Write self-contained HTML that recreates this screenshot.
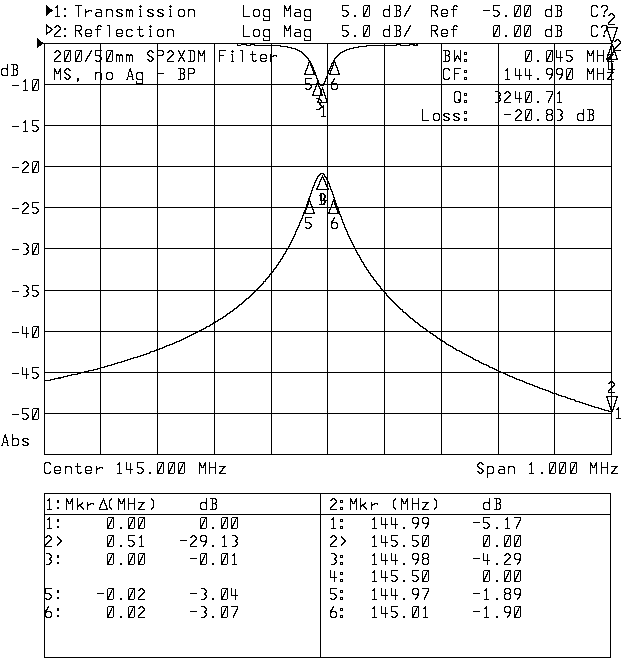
<!DOCTYPE html>
<html lang="en"><head><meta charset="utf-8"><title>Network analyzer plot</title>
<style>
html,body{margin:0;padding:0;background:#fff;}
body{width:640px;height:659px;overflow:hidden;font-family:"Liberation Mono",monospace;}
svg{display:block;}
svg text{font-family:"Liberation Mono",monospace;font-size:17px;fill:#000;fill-opacity:0;white-space:pre;}
</style></head><body>
<svg width="640" height="659" viewBox="0 0 640 659" shape-rendering="crispEdges" fill="#000">
<defs><path id="g28" d="M4 0h1v1h-1zM3 1h2v1h-2zM2 2h2v1h-2zM2 3h1v1h-1zM2 4h1v1h-1zM2 5h1v1h-1zM2 6h1v1h-1zM2 7h1v1h-1zM2 8h1v1h-1zM2 9h2v1h-2zM3 10h2v1h-2zM4 11h1v1h-1z"/><path id="g29" d="M2 0h1v1h-1zM2 1h2v1h-2zM3 2h2v1h-2zM4 3h1v1h-1zM4 4h1v1h-1zM4 5h1v1h-1zM4 6h1v1h-1zM4 7h1v1h-1zM4 8h1v1h-1zM3 9h2v1h-2zM2 10h2v1h-2zM2 11h1v1h-1z"/><path id="g2c" d="M2 10h2v1h-2zM2 11h2v1h-2zM2 12h2v1h-2zM2 13h1v1h-1z"/><path id="g2d" d="M0 5h7v1h-7z"/><path id="g2e" d="M2 10h2v1h-2zM2 11h2v1h-2z"/><path id="g2f" d="M6 0h1v1h-1zM5 1h2v1h-2zM5 2h1v1h-1zM4 3h2v1h-2zM4 4h1v1h-1zM3 5h2v1h-2zM2 6h2v1h-2zM2 7h1v1h-1zM1 8h2v1h-2zM1 9h1v1h-1zM0 10h2v1h-2zM0 11h1v1h-1z"/><path id="g30" d="M1 0h6v1h-6zM0 1h1v1h-1zM5 1h2v1h-2zM0 2h1v1h-1zM4 2h1v1h-1zM6 2h1v1h-1zM0 3h1v1h-1zM4 3h1v1h-1zM6 3h1v1h-1zM0 4h1v1h-1zM3 4h2v1h-2zM6 4h1v1h-1zM0 5h1v1h-1zM3 5h1v1h-1zM6 5h1v1h-1zM0 6h1v1h-1zM2 6h2v1h-2zM6 6h1v1h-1zM0 7h1v1h-1zM2 7h1v1h-1zM6 7h1v1h-1zM0 8h3v1h-3zM6 8h1v1h-1zM0 9h2v1h-2zM6 9h1v1h-1zM0 10h2v1h-2zM6 10h1v1h-1zM0 11h6v1h-6z"/><path id="g31" d="M3 0h1v1h-1zM2 1h2v1h-2zM1 2h3v1h-3zM3 3h1v1h-1zM3 4h1v1h-1zM3 5h1v1h-1zM3 6h1v1h-1zM3 7h1v1h-1zM3 8h1v1h-1zM3 9h1v1h-1zM3 10h1v1h-1zM1 11h5v1h-5z"/><path id="g32" d="M2 0h3v1h-3zM1 1h2v1h-2zM4 1h2v1h-2zM0 2h2v1h-2zM5 2h2v1h-2zM6 3h1v1h-1zM5 4h2v1h-2zM4 5h2v1h-2zM3 6h2v1h-2zM2 7h2v1h-2zM1 8h2v1h-2zM0 9h2v1h-2zM0 10h1v1h-1zM0 11h7v1h-7z"/><path id="g33" d="M1 0h4v1h-4zM4 1h2v1h-2zM5 2h2v1h-2zM6 3h1v1h-1zM5 4h2v1h-2zM4 5h2v1h-2zM4 6h2v1h-2zM5 7h2v1h-2zM6 8h1v1h-1zM5 9h2v1h-2zM4 10h2v1h-2zM1 11h4v1h-4z"/><path id="g34" d="M0 0h1v1h-1zM0 1h1v1h-1zM4 1h1v1h-1zM0 2h1v1h-1zM4 2h1v1h-1zM0 3h1v1h-1zM4 3h1v1h-1zM0 4h1v1h-1zM4 4h1v1h-1zM0 5h1v1h-1zM4 5h1v1h-1zM0 6h1v1h-1zM4 6h1v1h-1zM0 7h7v1h-7zM4 8h1v1h-1zM4 9h1v1h-1zM4 10h1v1h-1zM4 11h1v1h-1z"/><path id="g35" d="M0 0h7v1h-7zM0 1h1v1h-1zM0 2h1v1h-1zM0 3h1v1h-1zM0 4h1v1h-1zM0 5h5v1h-5zM4 6h2v1h-2zM5 7h2v1h-2zM6 8h1v1h-1zM5 9h2v1h-2zM0 10h2v1h-2zM4 10h2v1h-2zM1 11h4v1h-4z"/><path id="g36" d="M3 0h1v1h-1zM2 1h2v1h-2zM2 2h1v1h-1zM1 3h2v1h-2zM0 4h2v1h-2zM0 5h6v1h-6zM0 6h2v1h-2zM5 6h2v1h-2zM0 7h1v1h-1zM6 7h1v1h-1zM0 8h1v1h-1zM6 8h1v1h-1zM0 9h1v1h-1zM6 9h1v1h-1zM0 10h2v1h-2zM5 10h2v1h-2zM1 11h5v1h-5z"/><path id="g37" d="M0 0h7v1h-7zM6 1h1v1h-1zM6 2h1v1h-1zM5 3h2v1h-2zM5 4h1v1h-1zM4 5h2v1h-2zM4 6h1v1h-1zM3 7h2v1h-2zM3 8h1v1h-1zM2 9h2v1h-2zM2 10h1v1h-1zM2 11h1v1h-1z"/><path id="g38" d="M1 0h5v1h-5zM0 1h2v1h-2zM5 1h2v1h-2zM0 2h1v1h-1zM6 2h1v1h-1zM0 3h1v1h-1zM6 3h1v1h-1zM0 4h2v1h-2zM5 4h2v1h-2zM1 5h5v1h-5zM0 6h2v1h-2zM5 6h2v1h-2zM0 7h1v1h-1zM6 7h1v1h-1zM0 8h1v1h-1zM6 8h1v1h-1zM0 9h1v1h-1zM6 9h1v1h-1zM0 10h2v1h-2zM5 10h2v1h-2zM1 11h5v1h-5z"/><path id="g39" d="M1 0h5v1h-5zM0 1h2v1h-2zM5 1h2v1h-2zM0 2h1v1h-1zM6 2h1v1h-1zM0 3h1v1h-1zM6 3h1v1h-1zM0 4h1v1h-1zM6 4h1v1h-1zM0 5h2v1h-2zM5 5h2v1h-2zM1 6h6v1h-6zM5 7h2v1h-2zM5 8h1v1h-1zM4 9h2v1h-2zM3 10h2v1h-2zM3 11h1v1h-1z"/><path id="g3a" d="M0 2h3v1h-3zM0 3h1v1h-1zM2 3h1v1h-1zM0 4h3v1h-3zM0 9h3v1h-3zM0 10h1v1h-1zM2 10h1v1h-1zM0 11h3v1h-3z"/><path id="g3b" d="M0 3h2v1h-2zM0 4h2v1h-2zM0 10h2v1h-2zM0 11h2v1h-2z"/><path id="g3e" d="M1 1h1v1h-1zM1 2h2v1h-2zM2 3h2v1h-2zM3 4h2v1h-2zM4 5h2v1h-2zM4 6h2v1h-2zM3 7h2v1h-2zM2 8h2v1h-2zM1 9h2v1h-2zM1 10h1v1h-1z"/><path id="g3f" d="M1 0h5v1h-5zM0 1h2v1h-2zM5 1h2v1h-2zM0 2h1v1h-1zM6 2h1v1h-1zM6 3h1v1h-1zM5 4h2v1h-2zM4 5h2v1h-2zM3 6h2v1h-2zM3 7h1v1h-1zM3 8h1v1h-1zM2 10h2v1h-2zM2 11h2v1h-2z"/><path id="g41" d="M4 0h1v1h-1zM3 1h2v1h-2zM3 2h2v1h-2zM3 3h3v1h-3zM2 4h1v1h-1zM5 4h1v1h-1zM2 5h1v1h-1zM5 5h1v1h-1zM2 6h1v1h-1zM5 6h2v1h-2zM2 7h1v1h-1zM6 7h1v1h-1zM2 8h5v1h-5zM1 9h1v1h-1zM6 9h1v1h-1zM1 10h1v1h-1zM6 10h1v1h-1zM0 11h2v1h-2zM6 11h2v1h-2z"/><path id="g42" d="M0 0h6v1h-6zM2 1h1v1h-1zM5 1h2v1h-2zM2 2h1v1h-1zM6 2h1v1h-1zM2 3h1v1h-1zM6 3h1v1h-1zM2 4h1v1h-1zM5 4h2v1h-2zM2 5h4v1h-4zM2 6h1v1h-1zM5 6h2v1h-2zM2 7h1v1h-1zM6 7h1v1h-1zM2 8h1v1h-1zM6 8h1v1h-1zM2 9h1v1h-1zM6 9h1v1h-1zM2 10h1v1h-1zM5 10h2v1h-2zM0 11h6v1h-6z"/><path id="g43" d="M1 0h5v1h-5zM0 1h2v1h-2zM5 1h2v1h-2zM0 2h1v1h-1zM6 2h1v1h-1zM0 3h1v1h-1zM0 4h1v1h-1zM0 5h1v1h-1zM0 6h1v1h-1zM0 7h1v1h-1zM0 8h1v1h-1zM0 9h1v1h-1zM6 9h1v1h-1zM0 10h2v1h-2zM5 10h2v1h-2zM1 11h5v1h-5z"/><path id="g44" d="M0 0h6v1h-6zM2 1h1v1h-1zM5 1h2v1h-2zM2 2h1v1h-1zM6 2h1v1h-1zM2 3h1v1h-1zM6 3h1v1h-1zM2 4h1v1h-1zM6 4h1v1h-1zM2 5h1v1h-1zM6 5h1v1h-1zM2 6h1v1h-1zM6 6h1v1h-1zM2 7h1v1h-1zM6 7h1v1h-1zM2 8h1v1h-1zM6 8h1v1h-1zM2 9h1v1h-1zM6 9h1v1h-1zM2 10h1v1h-1zM5 10h2v1h-2zM0 11h6v1h-6z"/><path id="g46" d="M0 0h7v1h-7zM0 1h1v1h-1zM0 2h1v1h-1zM0 3h1v1h-1zM0 4h1v1h-1zM0 5h5v1h-5zM0 6h1v1h-1zM0 7h1v1h-1zM0 8h1v1h-1zM0 9h1v1h-1zM0 10h1v1h-1zM0 11h1v1h-1z"/><path id="g48" d="M0 0h1v1h-1zM6 0h1v1h-1zM0 1h1v1h-1zM6 1h1v1h-1zM0 2h1v1h-1zM6 2h1v1h-1zM0 3h1v1h-1zM6 3h1v1h-1zM0 4h1v1h-1zM6 4h1v1h-1zM0 5h7v1h-7zM0 6h1v1h-1zM6 6h1v1h-1zM0 7h1v1h-1zM6 7h1v1h-1zM0 8h1v1h-1zM6 8h1v1h-1zM0 9h1v1h-1zM6 9h1v1h-1zM0 10h1v1h-1zM6 10h1v1h-1zM0 11h1v1h-1zM6 11h1v1h-1z"/><path id="g4c" d="M0 0h1v1h-1zM0 1h1v1h-1zM0 2h1v1h-1zM0 3h1v1h-1zM0 4h1v1h-1zM0 5h1v1h-1zM0 6h1v1h-1zM0 7h1v1h-1zM0 8h1v1h-1zM0 9h1v1h-1zM0 10h1v1h-1zM0 11h7v1h-7z"/><path id="g4d" d="M0 0h1v1h-1zM6 0h1v1h-1zM0 1h2v1h-2zM5 1h2v1h-2zM0 2h2v1h-2zM5 2h2v1h-2zM0 3h3v1h-3zM4 3h3v1h-3zM0 4h1v1h-1zM2 4h1v1h-1zM4 4h1v1h-1zM6 4h1v1h-1zM0 5h1v1h-1zM2 5h3v1h-3zM6 5h1v1h-1zM0 6h1v1h-1zM6 6h1v1h-1zM0 7h1v1h-1zM6 7h1v1h-1zM0 8h1v1h-1zM6 8h1v1h-1zM0 9h1v1h-1zM6 9h1v1h-1zM0 10h1v1h-1zM6 10h1v1h-1zM0 11h1v1h-1zM6 11h1v1h-1z"/><path id="g50" d="M0 0h6v1h-6zM0 1h1v1h-1zM5 1h2v1h-2zM0 2h1v1h-1zM6 2h1v1h-1zM0 3h1v1h-1zM6 3h1v1h-1zM0 4h1v1h-1zM5 4h2v1h-2zM0 5h6v1h-6zM0 6h1v1h-1zM0 7h1v1h-1zM0 8h1v1h-1zM0 9h1v1h-1zM0 10h1v1h-1zM0 11h1v1h-1z"/><path id="g51" d="M1 0h5v1h-5zM0 1h2v1h-2zM5 1h2v1h-2zM0 2h1v1h-1zM6 2h1v1h-1zM0 3h1v1h-1zM6 3h1v1h-1zM0 4h1v1h-1zM6 4h1v1h-1zM0 5h1v1h-1zM6 5h1v1h-1zM0 6h1v1h-1zM6 6h1v1h-1zM0 7h1v1h-1zM6 7h1v1h-1zM0 8h1v1h-1zM4 8h3v1h-3zM0 9h1v1h-1zM4 9h3v1h-3zM0 10h2v1h-2zM5 10h2v1h-2zM1 11h5v1h-5z"/><path id="g52" d="M0 0h6v1h-6zM0 1h1v1h-1zM5 1h2v1h-2zM0 2h1v1h-1zM6 2h1v1h-1zM0 3h1v1h-1zM6 3h1v1h-1zM0 4h1v1h-1zM5 4h2v1h-2zM0 5h6v1h-6zM0 6h1v1h-1zM3 6h2v1h-2zM0 7h1v1h-1zM4 7h1v1h-1zM0 8h1v1h-1zM4 8h2v1h-2zM0 9h1v1h-1zM5 9h2v1h-2zM0 10h1v1h-1zM6 10h1v1h-1zM0 11h1v1h-1zM6 11h1v1h-1z"/><path id="g53" d="M2 0h3v1h-3zM1 1h2v1h-2zM4 1h2v1h-2zM0 2h2v1h-2zM5 2h2v1h-2zM0 3h1v1h-1zM0 4h2v1h-2zM1 5h2v1h-2zM2 6h3v1h-3zM4 7h2v1h-2zM5 8h2v1h-2zM0 9h2v1h-2zM5 9h2v1h-2zM1 10h2v1h-2zM4 10h2v1h-2zM2 11h3v1h-3z"/><path id="g54" d="M0 0h7v1h-7zM3 1h1v1h-1zM3 2h1v1h-1zM3 3h1v1h-1zM3 4h1v1h-1zM3 5h1v1h-1zM3 6h1v1h-1zM3 7h1v1h-1zM3 8h1v1h-1zM3 9h1v1h-1zM3 10h1v1h-1zM3 11h1v1h-1z"/><path id="g57" d="M0 0h1v1h-1zM6 0h1v1h-1zM0 1h1v1h-1zM6 1h1v1h-1zM0 2h1v1h-1zM6 2h1v1h-1zM0 3h1v1h-1zM6 3h1v1h-1zM0 4h1v1h-1zM6 4h1v1h-1zM0 5h1v1h-1zM3 5h1v1h-1zM6 5h1v1h-1zM0 6h1v1h-1zM2 6h3v1h-3zM6 6h1v1h-1zM0 7h1v1h-1zM2 7h1v1h-1zM4 7h1v1h-1zM6 7h1v1h-1zM0 8h3v1h-3zM4 8h3v1h-3zM0 9h2v1h-2zM5 9h2v1h-2zM0 10h2v1h-2zM6 10h1v1h-1zM0 11h1v1h-1zM6 11h1v1h-1z"/><path id="g58" d="M0 0h1v1h-1zM6 0h1v1h-1zM0 1h2v1h-2zM5 1h2v1h-2zM1 2h1v1h-1zM5 2h1v1h-1zM1 3h2v1h-2zM4 3h2v1h-2zM2 4h1v1h-1zM4 4h1v1h-1zM2 5h3v1h-3zM3 6h1v1h-1zM2 7h3v1h-3zM1 8h2v1h-2zM4 8h2v1h-2zM1 9h1v1h-1zM5 9h1v1h-1zM0 10h2v1h-2zM5 10h2v1h-2zM0 11h1v1h-1zM6 11h1v1h-1z"/><path id="g5e" d="M6 0h1v1h-1zM6 1h1v1h-1zM5 2h3v1h-3zM5 3h1v1h-1zM7 3h1v1h-1zM4 4h2v1h-2zM7 4h1v1h-1zM4 5h1v1h-1zM7 5h2v1h-2zM3 6h2v1h-2zM8 6h1v1h-1zM3 7h1v1h-1zM8 7h2v1h-2zM3 8h1v1h-1zM9 8h1v1h-1zM2 9h2v1h-2zM9 9h1v1h-1zM2 10h1v1h-1zM9 10h2v1h-2zM2 11h9v1h-9z"/><path id="g5f" d="M0 6h7v1h-7z"/><path id="g61" d="M1 4h5v1h-5zM5 5h2v1h-2zM6 6h1v1h-1zM1 7h6v1h-6zM0 8h2v1h-2zM6 8h1v1h-1zM0 9h1v1h-1zM6 9h1v1h-1zM0 10h2v1h-2zM6 10h1v1h-1zM1 11h6v1h-6z"/><path id="g62" d="M0 0h1v1h-1zM0 1h1v1h-1zM0 2h1v1h-1zM0 3h1v1h-1zM0 4h6v1h-6zM0 5h2v1h-2zM5 5h2v1h-2zM0 6h1v1h-1zM6 6h1v1h-1zM0 7h1v1h-1zM6 7h1v1h-1zM0 8h1v1h-1zM6 8h1v1h-1zM0 9h1v1h-1zM6 9h1v1h-1zM0 10h1v1h-1zM5 10h2v1h-2zM0 11h6v1h-6z"/><path id="g63" d="M1 4h5v1h-5zM0 5h2v1h-2zM5 5h2v1h-2zM0 6h1v1h-1zM0 7h1v1h-1zM0 8h1v1h-1zM0 9h1v1h-1zM0 10h2v1h-2zM5 10h2v1h-2zM1 11h5v1h-5z"/><path id="g64" d="M6 0h1v1h-1zM6 1h1v1h-1zM6 2h1v1h-1zM6 3h1v1h-1zM1 4h6v1h-6zM0 5h2v1h-2zM5 5h2v1h-2zM0 6h1v1h-1zM6 6h1v1h-1zM0 7h1v1h-1zM6 7h1v1h-1zM0 8h1v1h-1zM6 8h1v1h-1zM0 9h1v1h-1zM6 9h1v1h-1zM0 10h2v1h-2zM6 10h1v1h-1zM1 11h6v1h-6z"/><path id="g65" d="M1 4h5v1h-5zM0 5h2v1h-2zM5 5h2v1h-2zM0 6h1v1h-1zM6 6h1v1h-1zM0 7h1v1h-1zM6 7h1v1h-1zM0 8h7v1h-7zM0 9h1v1h-1zM0 10h2v1h-2zM5 10h2v1h-2zM1 11h5v1h-5z"/><path id="g66" d="M3 0h3v1h-3zM2 1h2v1h-2zM5 1h2v1h-2zM2 2h1v1h-1zM2 3h1v1h-1zM0 4h6v1h-6zM2 5h1v1h-1zM2 6h1v1h-1zM2 7h1v1h-1zM2 8h1v1h-1zM2 9h1v1h-1zM2 10h1v1h-1zM2 11h1v1h-1z"/><path id="g67" d="M1 4h6v1h-6zM0 5h2v1h-2zM5 5h2v1h-2zM0 6h1v1h-1zM6 6h1v1h-1zM0 7h1v1h-1zM6 7h1v1h-1zM0 8h1v1h-1zM6 8h1v1h-1zM0 9h1v1h-1zM6 9h1v1h-1zM0 10h2v1h-2zM6 10h1v1h-1zM1 11h6v1h-6zM6 12h1v1h-1zM0 13h1v1h-1zM6 13h1v1h-1zM0 14h1v1h-1zM6 14h1v1h-1zM0 15h7v1h-7z"/><path id="g69" d="M3 0h1v1h-1zM2 1h3v1h-3zM3 2h1v1h-1zM2 4h2v1h-2zM3 5h1v1h-1zM3 6h1v1h-1zM3 7h1v1h-1zM3 8h1v1h-1zM3 9h1v1h-1zM3 10h1v1h-1zM2 11h3v1h-3z"/><path id="g6b" d="M0 0h1v1h-1zM0 1h1v1h-1zM0 2h1v1h-1zM0 3h1v1h-1zM0 4h1v1h-1zM5 4h1v1h-1zM0 5h1v1h-1zM4 5h2v1h-2zM0 6h1v1h-1zM2 6h3v1h-3zM0 7h4v1h-4zM0 8h2v1h-2zM3 8h2v1h-2zM0 9h1v1h-1zM4 9h2v1h-2zM0 10h1v1h-1zM5 10h2v1h-2zM0 11h1v1h-1zM6 11h1v1h-1z"/><path id="g6c" d="M1 0h3v1h-3zM3 1h1v1h-1zM3 2h1v1h-1zM3 3h1v1h-1zM3 4h1v1h-1zM3 5h1v1h-1zM3 6h1v1h-1zM3 7h1v1h-1zM3 8h1v1h-1zM3 9h1v1h-1zM3 10h1v1h-1zM3 11h1v1h-1z"/><path id="g6d" d="M0 4h3v1h-3zM4 4h2v1h-2zM0 5h7v1h-7zM0 6h1v1h-1zM3 6h1v1h-1zM6 6h1v1h-1zM0 7h1v1h-1zM3 7h1v1h-1zM6 7h1v1h-1zM0 8h1v1h-1zM3 8h1v1h-1zM6 8h1v1h-1zM0 9h1v1h-1zM3 9h1v1h-1zM6 9h1v1h-1zM0 10h1v1h-1zM3 10h1v1h-1zM6 10h1v1h-1zM0 11h1v1h-1zM3 11h1v1h-1zM6 11h1v1h-1z"/><path id="g6e" d="M0 4h6v1h-6zM0 5h2v1h-2zM5 5h2v1h-2zM0 6h1v1h-1zM6 6h1v1h-1zM0 7h1v1h-1zM6 7h1v1h-1zM0 8h1v1h-1zM6 8h1v1h-1zM0 9h1v1h-1zM6 9h1v1h-1zM0 10h1v1h-1zM6 10h1v1h-1zM0 11h1v1h-1zM6 11h1v1h-1z"/><path id="g6f" d="M1 4h5v1h-5zM0 5h2v1h-2zM5 5h2v1h-2zM0 6h1v1h-1zM6 6h1v1h-1zM0 7h1v1h-1zM6 7h1v1h-1zM0 8h1v1h-1zM6 8h1v1h-1zM0 9h1v1h-1zM6 9h1v1h-1zM0 10h2v1h-2zM5 10h2v1h-2zM1 11h5v1h-5z"/><path id="g70" d="M0 4h6v1h-6zM0 5h2v1h-2zM5 5h2v1h-2zM0 6h1v1h-1zM6 6h1v1h-1zM0 7h1v1h-1zM6 7h1v1h-1zM0 8h1v1h-1zM6 8h1v1h-1zM0 9h1v1h-1zM6 9h1v1h-1zM0 10h1v1h-1zM5 10h2v1h-2zM0 11h6v1h-6zM0 12h1v1h-1zM0 13h1v1h-1zM0 14h1v1h-1zM0 15h1v1h-1z"/><path id="g72" d="M0 4h1v1h-1zM0 5h1v1h-1zM3 5h4v1h-4zM0 6h4v1h-4zM6 6h1v1h-1zM0 7h2v1h-2zM0 8h1v1h-1zM0 9h1v1h-1zM0 10h1v1h-1zM0 11h1v1h-1z"/><path id="g73" d="M1 4h5v1h-5zM0 5h2v1h-2zM5 5h2v1h-2zM0 6h2v1h-2zM1 7h3v1h-3zM3 8h3v1h-3zM5 9h2v1h-2zM0 10h2v1h-2zM5 10h2v1h-2zM1 11h5v1h-5z"/><path id="g74" d="M2 1h1v1h-1zM2 2h1v1h-1zM2 3h1v1h-1zM0 4h6v1h-6zM2 5h1v1h-1zM2 6h1v1h-1zM2 7h1v1h-1zM2 8h1v1h-1zM2 9h1v1h-1zM2 10h2v1h-2zM5 10h2v1h-2zM3 11h3v1h-3z"/><path id="g7a" d="M0 4h7v1h-7zM4 5h2v1h-2zM3 6h2v1h-2zM3 7h1v1h-1zM2 8h2v1h-2zM1 9h2v1h-2zM0 10h2v1h-2zM0 11h7v1h-7z"/><path id="g7c" d="M1 2h2v1h-2zM1 3h2v1h-2zM1 4h2v1h-2zM1 9h2v1h-2zM1 10h2v1h-2z"/></defs>
<rect width="640" height="659" fill="#fff"/>
<g><text x="54" y="16" xml:space="preserve">1:Transmission</text><text x="54" y="36" xml:space="preserve">2:Reflection</text><text x="243" y="16" xml:space="preserve">Log Mag</text><text x="342" y="16" xml:space="preserve">5.0 dB/</text><text x="431" y="16" xml:space="preserve">Ref</text><text x="590" y="16" xml:space="preserve">C?</text><text x="243" y="36" xml:space="preserve">Log Mag</text><text x="342" y="36" xml:space="preserve">5.0 dB/</text><text x="431" y="36" xml:space="preserve">Ref</text><text x="590" y="36" xml:space="preserve">C?</text><text x="483" y="16" xml:space="preserve">-5.00 dB</text><text x="483" y="36" xml:space="preserve">0.00 dB</text><text x="54" y="61" xml:space="preserve">200/50mm SP2XDM Filter</text><text x="54" y="79" xml:space="preserve">MS, no Ag - BP</text><text x="443" y="61" xml:space="preserve">BW:</text><text x="525" y="61" xml:space="preserve">0.045 MHz</text><text x="443" y="79" xml:space="preserve">CF:</text><text x="504" y="79" xml:space="preserve">144.990 MHz</text><text x="454" y="102" xml:space="preserve">Q:</text><text x="494" y="102" xml:space="preserve">3240.71</text><text x="422" y="120" xml:space="preserve">Loss:</text><text x="504" y="120" xml:space="preserve">-20.83 dB</text><text x="1" y="75" xml:space="preserve">dB</text><text x="12" y="90" xml:space="preserve">-10</text><text x="12" y="131" xml:space="preserve">-15</text><text x="12" y="172" xml:space="preserve">-20</text><text x="12" y="213" xml:space="preserve">-25</text><text x="12" y="254" xml:space="preserve">-30</text><text x="12" y="296" xml:space="preserve">-35</text><text x="12" y="337" xml:space="preserve">-40</text><text x="12" y="378" xml:space="preserve">-45</text><text x="12" y="419" xml:space="preserve">-50</text><text x="1" y="445" xml:space="preserve">Abs</text><text x="44" y="473" xml:space="preserve">Center 145.000 MHz</text><text x="477" y="473" xml:space="preserve">Span 1.000 MHz</text><text x="46" y="509" xml:space="preserve">1:Mkr Δ(MHz)    dB</text><text x="330" y="509" xml:space="preserve">2:Mkr (MHz)    dB</text><text x="46" y="528" xml:space="preserve">1:    0.00     0.00</text><text x="330" y="528" xml:space="preserve">1:  144.99    -5.17</text><text x="46" y="546" xml:space="preserve">2&gt;    0.51   -29.13</text><text x="330" y="546" xml:space="preserve">2&gt;  145.50     0.00</text><text x="46" y="564" xml:space="preserve">3:    0.00    -0.01</text><text x="330" y="564" xml:space="preserve">3:  144.98    -4.29</text><text x="330" y="581" xml:space="preserve">4:  145.50     0.00</text><text x="46" y="599" xml:space="preserve">5:   -0.02    -3.04</text><text x="330" y="599" xml:space="preserve">5:  144.97    -1.89</text><text x="46" y="617" xml:space="preserve">6:    0.02    -3.07</text><text x="330" y="617" xml:space="preserve">6:  145.01    -1.90</text></g>
<rect x="44" y="43" width="1" height="412"/>
<rect x="100" y="43" width="1" height="412"/>
<rect x="157" y="43" width="1" height="412"/>
<rect x="214" y="43" width="1" height="412"/>
<rect x="271" y="43" width="1" height="412"/>
<rect x="327" y="43" width="1" height="412"/>
<rect x="384" y="43" width="1" height="412"/>
<rect x="441" y="43" width="1" height="412"/>
<rect x="498" y="43" width="1" height="412"/>
<rect x="554" y="43" width="1" height="412"/>
<rect x="611" y="43" width="1" height="412"/>
<rect x="44" y="43" width="568" height="1"/>
<rect x="44" y="84" width="568" height="1"/>
<rect x="44" y="125" width="568" height="1"/>
<rect x="44" y="166" width="568" height="1"/>
<rect x="44" y="207" width="568" height="1"/>
<rect x="44" y="248" width="568" height="1"/>
<rect x="44" y="290" width="568" height="1"/>
<rect x="44" y="331" width="568" height="1"/>
<rect x="44" y="372" width="568" height="1"/>
<rect x="44" y="413" width="568" height="1"/>
<rect x="44" y="454" width="568" height="1"/>
<path d="M44 380h1v2h-1zM45 380h5v1h-5zM50 379h1v2h-1zM51 379h3v1h-3zM54 378h1v2h-1zM55 378h3v1h-3zM58 377h1v2h-1zM59 377h1v2h-1zM60 377h1v2h-1zM61 377h2v1h-2zM63 376h1v2h-1zM64 376h3v1h-3zM67 375h1v2h-1zM68 375h3v1h-3zM71 374h1v2h-1zM72 374h5v1h-5zM77 373h1v2h-1zM78 373h2v1h-2zM80 372h1v2h-1zM81 372h3v1h-3zM84 371h1v2h-1zM85 371h3v1h-3zM88 370h1v2h-1zM89 370h4v1h-4zM93 369h1v2h-1zM94 369h3v1h-3zM97 368h1v2h-1zM98 368h2v1h-2zM100 367h1v2h-1zM101 367h3v1h-3zM104 366h1v2h-1zM105 366h2v1h-2zM107 365h1v2h-1zM108 365h3v1h-3zM111 364h1v2h-1zM112 364h2v1h-2zM114 363h1v2h-1zM115 363h2v1h-2zM117 362h1v2h-1zM118 362h3v1h-3zM121 361h1v2h-1zM122 361h2v1h-2zM124 360h1v2h-1zM125 360h2v1h-2zM127 359h1v2h-1zM128 359h2v1h-2zM130 358h1v2h-1zM131 358h2v1h-2zM133 357h1v2h-1zM134 357h3v1h-3zM137 356h1v2h-1zM138 356h2v1h-2zM140 355h1v2h-1zM141 355h2v1h-2zM143 354h1v2h-1zM144 354h2v1h-2zM146 353h1v2h-1zM147 353h2v1h-2zM149 352h1v2h-1zM150 351h1v2h-1zM151 351h3v1h-3zM154 350h1v2h-1zM155 350h1v1h-1zM156 349h1v2h-1zM157 349h2v1h-2zM159 348h1v2h-1zM160 348h2v1h-2zM162 347h1v2h-1zM163 347h1v1h-1zM164 346h1v2h-1zM165 346h1v1h-1zM166 345h1v2h-1zM167 345h2v1h-2zM169 344h1v2h-1zM170 344h2v1h-2zM172 343h1v2h-1zM173 343h1v1h-1zM174 342h1v2h-1zM175 342h1v1h-1zM176 341h1v2h-1zM177 341h2v1h-2zM179 340h1v2h-1zM180 340h1v1h-1zM181 339h1v2h-1zM182 339h1v1h-1zM183 338h1v2h-1zM184 338h1v1h-1zM185 337h1v2h-1zM186 337h1v1h-1zM187 336h1v2h-1zM188 336h1v1h-1zM189 335h1v2h-1zM190 335h1v1h-1zM191 334h1v2h-1zM192 334h1v1h-1zM193 333h1v2h-1zM194 333h1v1h-1zM195 332h1v2h-1zM196 332h1v1h-1zM197 331h1v2h-1zM198 331h1v1h-1zM199 330h1v2h-1zM200 330h1v1h-1zM201 329h1v2h-1zM202 329h1v1h-1zM203 328h1v2h-1zM204 328h1v1h-1zM205 327h1v2h-1zM206 326h1v2h-1zM207 326h2v1h-2zM209 325h1v2h-1zM210 324h1v2h-1zM211 324h1v1h-1zM212 323h1v2h-1zM213 322h1v2h-1zM214 322h1v1h-1zM215 321h1v2h-1zM216 321h1v1h-1zM217 320h1v2h-1zM218 319h1v2h-1zM219 319h1v1h-1zM220 318h1v2h-1zM221 318h1v1h-1zM222 317h1v2h-1zM223 316h1v2h-1zM224 316h1v1h-1zM225 315h1v2h-1zM226 314h1v2h-1zM227 313h1v2h-1zM228 313h1v1h-1zM229 312h1v2h-1zM230 311h1v2h-1zM231 311h1v1h-1zM232 310h1v2h-1zM233 309h1v2h-1zM234 308h1v2h-1zM235 308h1v1h-1zM236 307h1v2h-1zM237 306h1v2h-1zM238 305h1v2h-1zM239 304h1v2h-1zM240 304h1v1h-1zM241 303h1v2h-1zM242 302h1v2h-1zM243 301h1v2h-1zM244 300h1v2h-1zM245 299h1v2h-1zM246 298h1v2h-1zM247 298h1v1h-1zM248 297h1v2h-1zM249 296h1v2h-1zM250 295h1v2h-1zM251 294h1v2h-1zM252 293h1v2h-1zM253 292h1v2h-1zM254 291h1v2h-1zM255 290h1v2h-1zM256 289h1v2h-1zM257 288h1v2h-1zM258 287h1v2h-1zM259 286h1v2h-1zM260 285h1v2h-1zM261 284h1v2h-1zM262 283h1v2h-1zM263 281h1v3h-1zM264 281h1v1h-1zM265 279h1v3h-1zM266 278h1v2h-1zM267 277h1v2h-1zM268 276h1v2h-1zM269 274h1v3h-1zM270 273h1v2h-1zM271 272h1v2h-1zM272 271h1v2h-1zM273 269h1v3h-1zM274 268h1v2h-1zM275 267h1v2h-1zM276 265h1v3h-1zM277 264h1v2h-1zM278 262h1v3h-1zM279 261h1v2h-1zM280 259h1v3h-1zM281 258h1v2h-1zM282 256h1v3h-1zM283 254h1v3h-1zM284 253h1v2h-1zM285 251h1v3h-1zM286 249h1v3h-1zM287 248h1v2h-1zM288 246h1v3h-1zM289 244h1v3h-1zM290 242h1v3h-1zM291 240h1v3h-1zM292 238h1v3h-1zM293 236h1v3h-1zM294 234h1v3h-1zM295 231h1v4h-1zM296 229h1v3h-1zM297 227h1v3h-1zM298 225h1v3h-1zM299 222h1v4h-1zM300 220h1v3h-1zM301 218h1v3h-1zM302 215h1v4h-1zM303 212h1v4h-1zM304 210h1v3h-1zM305 207h1v4h-1zM306 204h1v4h-1zM307 201h1v4h-1zM308 198h1v4h-1zM309 196h1v3h-1zM310 193h1v4h-1zM311 190h1v4h-1zM312 187h1v4h-1zM313 185h1v3h-1zM314 182h1v4h-1zM315 180h1v3h-1zM316 178h1v3h-1zM317 176h1v3h-1zM318 175h1v2h-1zM319 174h1v2h-1zM320 173h1v2h-1zM321 173h2v1h-2zM323 173h1v2h-1zM324 174h1v3h-1zM325 176h1v2h-1zM326 177h1v3h-1zM327 179h1v3h-1zM328 181h1v3h-1zM329 183h1v4h-1zM330 186h1v4h-1zM331 189h1v3h-1zM332 191h1v4h-1zM333 194h1v4h-1zM334 197h1v4h-1zM335 200h1v4h-1zM336 203h1v4h-1zM337 206h1v3h-1zM338 208h1v4h-1zM339 211h1v4h-1zM340 214h1v3h-1zM341 216h1v4h-1zM342 219h1v4h-1zM343 222h1v3h-1zM344 224h1v4h-1zM345 227h1v3h-1zM346 229h1v3h-1zM347 231h1v4h-1zM348 234h1v3h-1zM349 236h1v3h-1zM350 238h1v3h-1zM351 240h1v3h-1zM352 242h1v3h-1zM353 244h1v3h-1zM354 246h1v3h-1zM355 248h1v3h-1zM356 250h1v3h-1zM357 252h1v3h-1zM358 254h1v2h-1zM359 255h1v3h-1zM360 257h1v3h-1zM361 259h1v3h-1zM362 261h1v2h-1zM363 262h1v3h-1zM364 264h1v3h-1zM365 266h1v2h-1zM366 267h1v3h-1zM367 269h1v2h-1zM368 270h1v3h-1zM369 272h1v2h-1zM370 273h1v3h-1zM371 275h1v2h-1zM372 276h1v2h-1zM373 277h1v3h-1zM374 279h1v2h-1zM375 280h1v2h-1zM376 281h1v3h-1zM377 283h1v2h-1zM378 284h1v2h-1zM379 285h1v2h-1zM380 286h1v3h-1zM381 288h1v2h-1zM382 289h1v2h-1zM383 290h1v2h-1zM384 291h1v2h-1zM385 292h1v2h-1zM386 293h1v3h-1zM387 295h1v2h-1zM388 296h1v2h-1zM389 297h1v2h-1zM390 298h1v2h-1zM391 299h1v2h-1zM392 300h1v2h-1zM393 301h1v2h-1zM394 302h1v2h-1zM395 303h1v2h-1zM396 304h1v2h-1zM397 305h1v2h-1zM398 306h1v2h-1zM399 307h1v2h-1zM400 308h1v2h-1zM401 309h1v1h-1zM402 309h1v3h-1zM403 311h1v2h-1zM404 312h1v1h-1zM405 312h1v2h-1zM406 313h1v2h-1zM407 314h1v2h-1zM408 315h1v2h-1zM409 316h1v2h-1zM410 317h1v2h-1zM411 318h1v1h-1zM412 318h1v2h-1zM413 319h1v2h-1zM414 320h1v2h-1zM415 321h1v2h-1zM416 322h1v1h-1zM417 322h1v2h-1zM418 323h1v2h-1zM419 324h1v2h-1zM420 325h1v2h-1zM421 326h1v1h-1zM422 326h1v2h-1zM423 327h1v2h-1zM424 328h1v1h-1zM425 328h1v2h-1zM426 329h1v2h-1zM427 330h1v2h-1zM428 331h1v1h-1zM429 331h1v2h-1zM430 332h1v2h-1zM431 333h1v1h-1zM432 333h1v2h-1zM433 334h1v2h-1zM434 335h1v1h-1zM435 335h1v2h-1zM436 336h1v2h-1zM437 337h1v2h-1zM438 338h1v1h-1zM439 338h1v2h-1zM440 339h1v2h-1zM441 340h1v1h-1zM442 340h1v2h-1zM443 341h1v1h-1zM444 341h1v2h-1zM445 342h1v2h-1zM446 343h1v2h-1zM447 344h1v1h-1zM448 344h1v2h-1zM449 345h1v1h-1zM450 345h1v2h-1zM451 346h1v1h-1zM452 346h1v2h-1zM453 347h1v2h-1zM454 348h1v1h-1zM455 348h1v2h-1zM456 349h1v2h-1zM457 350h2v1h-2zM459 350h1v2h-1zM460 351h1v1h-1zM461 351h1v2h-1zM462 352h1v2h-1zM463 353h1v1h-1zM464 353h1v2h-1zM465 354h1v1h-1zM466 354h1v2h-1zM467 355h1v1h-1zM468 355h1v2h-1zM469 356h1v1h-1zM470 356h1v2h-1zM471 357h1v1h-1zM472 357h1v2h-1zM473 358h1v2h-1zM474 359h1v1h-1zM475 359h1v2h-1zM476 360h2v1h-2zM478 360h1v2h-1zM479 361h1v2h-1zM480 362h1v1h-1zM481 362h1v2h-1zM482 363h1v1h-1zM483 363h1v2h-1zM484 364h2v1h-2zM486 364h1v2h-1zM487 365h1v1h-1zM488 365h1v2h-1zM489 366h1v2h-1zM490 367h2v1h-2zM492 367h1v2h-1zM493 368h1v1h-1zM494 368h1v2h-1zM495 369h1v1h-1zM496 369h1v2h-1zM497 370h1v1h-1zM498 370h1v2h-1zM499 371h1v1h-1zM500 371h1v2h-1zM501 372h2v1h-2zM503 372h1v2h-1zM504 373h1v1h-1zM505 373h1v2h-1zM506 374h1v1h-1zM507 374h1v2h-1zM508 375h1v1h-1zM509 375h1v2h-1zM510 376h2v1h-2zM512 376h1v2h-1zM513 377h1v1h-1zM514 377h1v2h-1zM515 378h1v1h-1zM516 378h1v2h-1zM517 379h2v1h-2zM519 379h1v2h-1zM520 380h2v1h-2zM522 380h1v2h-1zM523 381h1v1h-1zM524 381h1v2h-1zM525 382h1v1h-1zM526 382h1v2h-1zM527 383h2v1h-2zM529 383h1v2h-1zM530 384h2v1h-2zM532 384h1v2h-1zM533 385h1v1h-1zM534 385h1v2h-1zM535 386h2v1h-2zM537 386h1v2h-1zM538 387h1v1h-1zM539 387h1v2h-1zM540 388h2v1h-2zM542 388h1v2h-1zM543 389h2v1h-2zM545 389h1v2h-1zM546 390h2v1h-2zM548 390h1v2h-1zM549 391h1v1h-1zM550 391h1v2h-1zM551 392h1v1h-1zM552 392h1v2h-1zM553 393h3v1h-3zM556 393h1v2h-1zM557 394h1v1h-1zM558 394h1v2h-1zM559 395h2v1h-2zM561 395h1v2h-1zM562 396h3v1h-3zM565 396h1v2h-1zM566 397h1v1h-1zM567 397h1v2h-1zM568 398h2v1h-2zM570 398h1v2h-1zM571 399h3v1h-3zM574 399h1v2h-1zM575 400h1v2h-1zM576 401h3v1h-3zM579 401h1v2h-1zM580 402h2v1h-2zM582 402h1v2h-1zM583 403h2v1h-2zM585 403h1v2h-1zM586 404h2v1h-2zM588 404h1v2h-1zM589 405h2v1h-2zM591 405h1v2h-1zM592 406h2v1h-2zM594 406h1v2h-1zM595 407h3v1h-3zM598 407h1v2h-1zM599 408h2v1h-2zM601 408h1v2h-1zM602 409h2v1h-2zM604 409h1v2h-1zM605 410h3v1h-3zM608 410h1v2h-1zM609 411h3v1h-3z"/>
<path d="M44 43h193v1h-193zM237 44h1v2h-1zM238 45h3v1h-3zM241 44h5v1h-5zM246 44h1v2h-1zM247 45h3v1h-3zM250 44h1v2h-1zM251 44h3v1h-3zM254 44h1v2h-1zM255 45h25v1h-25zM280 45h1v2h-1zM281 46h6v1h-6zM287 46h1v2h-1zM288 47h3v1h-3zM291 47h1v2h-1zM292 48h3v1h-3zM295 48h1v2h-1zM296 49h1v1h-1zM297 49h1v2h-1zM298 50h1v1h-1zM299 50h1v2h-1zM300 51h1v1h-1zM301 51h1v2h-1zM302 52h1v2h-1zM303 53h1v2h-1zM304 54h1v2h-1zM305 55h1v2h-1zM306 56h1v2h-1zM307 57h1v2h-1zM308 58h1v3h-1zM309 60h1v2h-1zM310 61h1v3h-1zM311 63h1v3h-1zM312 65h1v3h-1zM313 67h1v4h-1zM314 70h1v3h-1zM315 72h1v4h-1zM316 75h1v4h-1zM317 78h1v3h-1zM318 80h1v4h-1zM319 83h1v2h-1zM320 84h1v2h-1zM321 85h2v1h-2zM323 83h1v3h-1zM324 81h1v3h-1zM325 78h1v4h-1zM326 76h1v3h-1zM327 73h1v4h-1zM328 70h1v4h-1zM329 68h1v3h-1zM330 66h1v3h-1zM331 63h1v4h-1zM332 62h1v2h-1zM333 60h1v3h-1zM334 58h1v3h-1zM335 57h1v2h-1zM336 56h1v2h-1zM337 55h1v2h-1zM338 54h1v2h-1zM339 53h1v2h-1zM340 52h1v2h-1zM341 52h1v1h-1zM342 51h1v2h-1zM343 51h1v1h-1zM344 50h1v2h-1zM345 50h1v1h-1zM346 49h1v2h-1zM347 49h2v1h-2zM349 48h1v2h-1zM350 48h3v1h-3zM353 47h1v2h-1zM354 47h4v1h-4zM358 46h1v2h-1zM359 46h7v1h-7zM366 45h1v2h-1zM367 45h29v1h-29zM396 44h1v2h-1zM397 44h3v1h-3zM400 44h1v2h-1zM401 45h8v1h-8zM409 44h1v2h-1zM410 44h3v1h-3zM413 44h1v2h-1zM414 45h3v1h-3zM417 44h1v2h-1zM418 43h194v1h-194z"/>
<rect x="414" y="44" width="1" height="1"/>
<rect x="416" y="44" width="1" height="1"/>
<use href="#g35" x="305" y="217"/>
<use href="#g36" x="331" y="217"/>
<use href="#g33" x="319" y="193"/>
<use href="#g34" x="320" y="193"/>
<use href="#g31" x="318" y="193"/>
<use href="#g32" x="608" y="381"/>
<use href="#g31" x="615" y="407"/>
<use href="#g35" x="305" y="78"/>
<use href="#g36" x="331" y="78"/>
<use href="#g33" x="315" y="98"/>
<use href="#g31" x="320" y="105"/>
<use href="#g32" x="608" y="13"/>
<use href="#g34" x="608" y="62"/>
<use href="#g32" x="614" y="39"/>
<path d="M606 27h12v1h-12zM606 28h2v1h-2zM616 28h2v1h-2zM607 29h1v1h-1zM616 29h1v1h-1zM607 30h1v1h-1zM616 30h1v1h-1zM607 31h2v1h-2zM615 31h2v1h-2zM608 32h1v1h-1zM615 32h1v1h-1zM608 33h1v1h-1zM615 33h1v1h-1zM608 34h2v1h-2zM614 34h2v1h-2zM609 35h1v1h-1zM614 35h1v1h-1zM609 36h1v1h-1zM614 36h1v1h-1zM609 37h2v1h-2zM613 37h2v1h-2zM610 38h1v1h-1zM613 38h1v1h-1zM610 39h1v1h-1zM613 39h1v1h-1zM610 40h4v1h-4zM611 41h2v1h-2zM611 42h2v1h-2zM611 44h2v1h-2zM611 45h2v1h-2zM610 46h4v1h-4zM610 47h1v1h-1zM613 47h1v1h-1zM610 48h1v1h-1zM613 48h1v1h-1zM609 49h2v1h-2zM613 49h2v1h-2zM609 50h1v1h-1zM613 50h2v1h-2zM609 51h1v1h-1zM613 51h2v1h-2zM608 52h2v1h-2zM612 52h4v1h-4zM608 53h1v1h-1zM611 53h2v1h-2zM615 53h1v1h-1zM608 54h1v1h-1zM611 54h1v1h-1zM615 54h1v1h-1zM607 55h2v1h-2zM610 55h2v1h-2zM615 55h2v1h-2zM607 56h1v1h-1zM609 56h2v1h-2zM616 56h1v1h-1zM607 57h3v1h-3zM616 57h1v1h-1zM606 58h3v1h-3zM616 58h2v1h-2zM606 59h12v1h-12zM309 60h1v1h-1zM334 60h1v1h-1zM309 61h1v1h-1zM334 61h1v1h-1zM308 62h3v1h-3zM333 62h3v1h-3zM308 63h1v1h-1zM310 63h1v1h-1zM333 63h1v1h-1zM335 63h1v1h-1zM308 64h1v1h-1zM310 64h1v1h-1zM333 64h1v1h-1zM335 64h1v1h-1zM307 65h2v1h-2zM310 65h2v1h-2zM332 65h2v1h-2zM335 65h2v1h-2zM307 66h1v1h-1zM311 66h1v1h-1zM332 66h1v1h-1zM336 66h1v1h-1zM307 67h1v1h-1zM311 67h2v1h-2zM332 67h1v1h-1zM336 67h2v1h-2zM306 68h2v1h-2zM312 68h1v1h-1zM331 68h2v1h-2zM337 68h1v1h-1zM306 69h1v1h-1zM312 69h1v1h-1zM331 69h1v1h-1zM337 69h1v1h-1zM305 70h2v1h-2zM312 70h2v1h-2zM330 70h2v1h-2zM337 70h2v1h-2zM305 71h1v1h-1zM313 71h1v1h-1zM330 71h1v1h-1zM338 71h1v1h-1zM305 72h1v1h-1zM313 72h1v1h-1zM330 72h1v1h-1zM338 72h1v1h-1zM304 73h2v1h-2zM313 73h2v1h-2zM329 73h2v1h-2zM338 73h2v1h-2zM304 74h11v1h-11zM329 74h11v1h-11zM317 81h1v1h-1zM317 82h1v1h-1zM316 83h3v1h-3zM316 84h1v1h-1zM318 84h1v1h-1zM316 85h1v1h-1zM318 85h1v1h-1zM315 86h2v1h-2zM318 86h2v1h-2zM315 87h1v1h-1zM319 87h1v1h-1zM322 87h1v1h-1zM315 88h1v1h-1zM319 88h2v1h-2zM322 88h1v1h-1zM314 89h2v1h-2zM320 89h4v1h-4zM314 90h1v1h-1zM320 90h2v1h-2zM323 90h1v1h-1zM313 91h2v1h-2zM320 91h2v1h-2zM323 91h1v1h-1zM313 92h1v1h-1zM320 92h2v1h-2zM323 92h2v1h-2zM313 93h1v1h-1zM320 93h2v1h-2zM324 93h1v1h-1zM312 94h2v1h-2zM320 94h3v1h-3zM324 94h1v1h-1zM312 95h11v1h-11zM324 95h2v1h-2zM319 96h1v1h-1zM325 96h1v1h-1zM319 97h1v1h-1zM325 97h1v1h-1zM318 98h2v1h-2zM325 98h2v1h-2zM318 99h1v1h-1zM326 99h1v1h-1zM318 100h1v1h-1zM326 100h1v1h-1zM317 101h2v1h-2zM326 101h2v1h-2zM317 102h11v1h-11zM322 175h1v1h-1zM322 176h1v1h-1zM321 177h3v1h-3zM321 178h1v1h-1zM323 178h1v1h-1zM320 179h2v1h-2zM323 179h2v1h-2zM320 180h1v1h-1zM324 180h1v1h-1zM319 181h2v1h-2zM324 181h2v1h-2zM319 182h1v1h-1zM325 182h1v1h-1zM319 183h1v1h-1zM325 183h1v1h-1zM318 184h2v1h-2zM325 184h2v1h-2zM318 185h1v1h-1zM326 185h1v1h-1zM317 186h2v1h-2zM326 186h2v1h-2zM317 187h1v1h-1zM327 187h1v1h-1zM316 188h2v1h-2zM327 188h2v1h-2zM316 189h13v1h-13zM309 199h1v1h-1zM333 199h1v1h-1zM309 200h1v1h-1zM333 200h1v1h-1zM308 201h3v1h-3zM332 201h3v1h-3zM308 202h1v1h-1zM310 202h1v1h-1zM332 202h1v1h-1zM334 202h1v1h-1zM308 203h1v1h-1zM310 203h1v1h-1zM332 203h1v1h-1zM334 203h1v1h-1zM307 204h2v1h-2zM310 204h2v1h-2zM331 204h2v1h-2zM334 204h2v1h-2zM307 205h1v1h-1zM311 205h1v1h-1zM331 205h1v1h-1zM335 205h1v1h-1zM307 206h1v1h-1zM311 206h2v1h-2zM331 206h1v1h-1zM335 206h2v1h-2zM306 207h2v1h-2zM312 207h1v1h-1zM330 207h2v1h-2zM336 207h1v1h-1zM306 208h1v1h-1zM312 208h1v1h-1zM330 208h1v1h-1zM336 208h1v1h-1zM305 209h2v1h-2zM312 209h2v1h-2zM329 209h2v1h-2zM336 209h2v1h-2zM305 210h1v1h-1zM313 210h1v1h-1zM329 210h1v1h-1zM337 210h1v1h-1zM305 211h1v1h-1zM313 211h1v1h-1zM329 211h1v1h-1zM337 211h1v1h-1zM304 212h2v1h-2zM313 212h2v1h-2zM328 212h2v1h-2zM337 212h2v1h-2zM304 213h11v1h-11zM328 213h11v1h-11zM606 396h12v1h-12zM606 397h2v1h-2zM616 397h2v1h-2zM607 398h1v1h-1zM616 398h1v1h-1zM607 399h1v1h-1zM616 399h1v1h-1zM607 400h2v1h-2zM615 400h2v1h-2zM608 401h1v1h-1zM615 401h1v1h-1zM608 402h1v1h-1zM615 402h1v1h-1zM608 403h2v1h-2zM614 403h2v1h-2zM609 404h1v1h-1zM614 404h1v1h-1zM609 405h1v1h-1zM614 405h1v1h-1zM609 406h2v1h-2zM613 406h2v1h-2zM610 407h1v1h-1zM613 407h1v1h-1zM610 408h1v1h-1zM613 408h1v1h-1zM610 409h4v1h-4zM611 410h2v1h-2zM611 411h2v1h-2z"/>
<path d="M37 38 L37 48 L44 43.5 Z" fill="#000"/>
<path d="M46 5 L46 16 L53 10.5 Z" fill="#000"/>
<path d="M46 24h1v1h-1zM46 25h2v1h-2zM46 26h3v1h-3zM46 27h1v1h-1zM48 27h3v1h-3zM46 28h1v1h-1zM50 28h2v1h-2zM46 29h1v1h-1zM51 29h2v1h-2zM46 30h1v1h-1zM50 30h2v1h-2zM46 31h1v1h-1zM49 31h2v1h-2zM46 32h4v1h-4zM46 33h2v1h-2zM46 34h1v1h-1z"/>
<use href="#g31" x="54" y="5"/>
<use href="#g3b" x="64" y="5"/>
<use href="#g54" x="75" y="5"/>
<use href="#g72" x="85" y="5"/>
<use href="#g61" x="95" y="5"/>
<use href="#g6e" x="106" y="5"/>
<use href="#g73" x="116" y="5"/>
<use href="#g6d" x="126" y="5"/>
<use href="#g69" x="137" y="5"/>
<use href="#g73" x="147" y="5"/>
<use href="#g73" x="157" y="5"/>
<use href="#g69" x="167" y="5"/>
<use href="#g6f" x="178" y="5"/>
<use href="#g6e" x="188" y="5"/>
<use href="#g32" x="54" y="25"/>
<use href="#g3b" x="64" y="25"/>
<use href="#g52" x="75" y="25"/>
<use href="#g65" x="85" y="25"/>
<use href="#g66" x="95" y="25"/>
<use href="#g6c" x="106" y="25"/>
<use href="#g65" x="116" y="25"/>
<use href="#g63" x="126" y="25"/>
<use href="#g74" x="137" y="25"/>
<use href="#g69" x="147" y="25"/>
<use href="#g6f" x="157" y="25"/>
<use href="#g6e" x="167" y="25"/>
<use href="#g4c" x="243" y="5"/>
<use href="#g6f" x="253" y="5"/>
<use href="#g67" x="263" y="5"/>
<use href="#g4d" x="284" y="5"/>
<use href="#g61" x="294" y="5"/>
<use href="#g67" x="304" y="5"/>
<use href="#g35" x="342" y="5"/>
<use href="#g2e" x="352" y="5"/>
<use href="#g30" x="363" y="5"/>
<use href="#g64" x="383" y="5"/>
<use href="#g42" x="394" y="5"/>
<use href="#g2f" x="404" y="5"/>
<use href="#g52" x="431" y="5"/>
<use href="#g65" x="441" y="5"/>
<use href="#g66" x="451" y="5"/>
<use href="#g43" x="591" y="5"/>
<use href="#g3f" x="601" y="5"/>
<use href="#g4c" x="243" y="25"/>
<use href="#g6f" x="253" y="25"/>
<use href="#g67" x="263" y="25"/>
<use href="#g4d" x="284" y="25"/>
<use href="#g61" x="294" y="25"/>
<use href="#g67" x="304" y="25"/>
<use href="#g35" x="342" y="25"/>
<use href="#g2e" x="352" y="25"/>
<use href="#g30" x="363" y="25"/>
<use href="#g64" x="383" y="25"/>
<use href="#g42" x="394" y="25"/>
<use href="#g2f" x="404" y="25"/>
<use href="#g52" x="431" y="25"/>
<use href="#g65" x="441" y="25"/>
<use href="#g66" x="451" y="25"/>
<use href="#g43" x="591" y="25"/>
<use href="#g3f" x="601" y="25"/>
<use href="#g2d" x="483" y="5"/>
<use href="#g35" x="493" y="5"/>
<use href="#g2e" x="503" y="5"/>
<use href="#g30" x="514" y="5"/>
<use href="#g30" x="524" y="5"/>
<use href="#g64" x="545" y="5"/>
<use href="#g42" x="555" y="5"/>
<use href="#g30" x="493" y="25"/>
<use href="#g2e" x="503" y="25"/>
<use href="#g30" x="514" y="25"/>
<use href="#g30" x="524" y="25"/>
<use href="#g64" x="545" y="25"/>
<use href="#g42" x="555" y="25"/>
<use href="#g32" x="54" y="50"/>
<use href="#g30" x="64" y="50"/>
<use href="#g30" x="75" y="50"/>
<use href="#g2f" x="85" y="50"/>
<use href="#g35" x="95" y="50"/>
<use href="#g30" x="106" y="50"/>
<use href="#g6d" x="116" y="50"/>
<use href="#g6d" x="126" y="50"/>
<use href="#g53" x="147" y="50"/>
<use href="#g50" x="157" y="50"/>
<use href="#g32" x="167" y="50"/>
<use href="#g58" x="178" y="50"/>
<use href="#g44" x="188" y="50"/>
<use href="#g4d" x="198" y="50"/>
<use href="#g46" x="219" y="50"/>
<use href="#g69" x="229" y="50"/>
<use href="#g6c" x="239" y="50"/>
<use href="#g74" x="250" y="50"/>
<use href="#g65" x="260" y="50"/>
<use href="#g72" x="270" y="50"/>
<use href="#g4d" x="54" y="68"/>
<use href="#g53" x="64" y="68"/>
<use href="#g2c" x="75" y="68"/>
<use href="#g6e" x="95" y="68"/>
<use href="#g6f" x="106" y="68"/>
<use href="#g41" x="126" y="68"/>
<use href="#g67" x="136" y="68"/>
<use href="#g2d" x="157" y="68"/>
<use href="#g42" x="178" y="68"/>
<use href="#g50" x="188" y="68"/>
<use href="#g42" x="443" y="50"/>
<use href="#g57" x="454" y="50"/>
<use href="#g3a" x="464" y="50"/>
<use href="#g30" x="525" y="50"/>
<use href="#g2e" x="535" y="50"/>
<use href="#g30" x="546" y="50"/>
<use href="#g34" x="556" y="50"/>
<use href="#g35" x="566" y="50"/>
<use href="#g4d" x="587" y="50"/>
<use href="#g48" x="597" y="50"/>
<use href="#g7a" x="607" y="50"/>
<use href="#g43" x="443" y="68"/>
<use href="#g46" x="454" y="68"/>
<use href="#g3a" x="464" y="68"/>
<use href="#g31" x="504" y="68"/>
<use href="#g34" x="515" y="68"/>
<use href="#g34" x="525" y="68"/>
<use href="#g2e" x="535" y="68"/>
<use href="#g39" x="546" y="68"/>
<use href="#g39" x="556" y="68"/>
<use href="#g30" x="566" y="68"/>
<use href="#g4d" x="587" y="68"/>
<use href="#g48" x="597" y="68"/>
<use href="#g7a" x="607" y="68"/>
<use href="#g51" x="454" y="91"/>
<use href="#g3a" x="464" y="91"/>
<use href="#g33" x="494" y="91"/>
<use href="#g32" x="504" y="91"/>
<use href="#g34" x="515" y="91"/>
<use href="#g30" x="525" y="91"/>
<use href="#g2e" x="535" y="91"/>
<use href="#g37" x="546" y="91"/>
<use href="#g31" x="556" y="91"/>
<use href="#g4c" x="422" y="109"/>
<use href="#g6f" x="433" y="109"/>
<use href="#g73" x="443" y="109"/>
<use href="#g73" x="453" y="109"/>
<use href="#g3a" x="464" y="109"/>
<use href="#g2d" x="504" y="109"/>
<use href="#g32" x="515" y="109"/>
<use href="#g30" x="525" y="109"/>
<use href="#g2e" x="535" y="109"/>
<use href="#g38" x="546" y="109"/>
<use href="#g33" x="556" y="109"/>
<use href="#g64" x="577" y="109"/>
<use href="#g42" x="587" y="109"/>
<use href="#g64" x="1" y="64"/>
<use href="#g42" x="11" y="64"/>
<use href="#g5f" x="12" y="79"/>
<use href="#g31" x="22" y="79"/>
<use href="#g30" x="32" y="79"/>
<use href="#g5f" x="12" y="120"/>
<use href="#g31" x="22" y="120"/>
<use href="#g35" x="32" y="120"/>
<use href="#g5f" x="12" y="161"/>
<use href="#g32" x="22" y="161"/>
<use href="#g30" x="32" y="161"/>
<use href="#g5f" x="12" y="202"/>
<use href="#g32" x="22" y="202"/>
<use href="#g35" x="32" y="202"/>
<use href="#g5f" x="12" y="243"/>
<use href="#g33" x="22" y="243"/>
<use href="#g30" x="32" y="243"/>
<use href="#g5f" x="12" y="285"/>
<use href="#g33" x="22" y="285"/>
<use href="#g35" x="32" y="285"/>
<use href="#g5f" x="12" y="326"/>
<use href="#g34" x="22" y="326"/>
<use href="#g30" x="32" y="326"/>
<use href="#g5f" x="12" y="367"/>
<use href="#g34" x="22" y="367"/>
<use href="#g35" x="32" y="367"/>
<use href="#g5f" x="12" y="408"/>
<use href="#g35" x="22" y="408"/>
<use href="#g30" x="32" y="408"/>
<use href="#g41" x="1" y="434"/>
<use href="#g62" x="12" y="434"/>
<use href="#g73" x="22" y="434"/>
<use href="#g43" x="44" y="462"/>
<use href="#g65" x="54" y="462"/>
<use href="#g6e" x="65" y="462"/>
<use href="#g74" x="75" y="462"/>
<use href="#g65" x="85" y="462"/>
<use href="#g72" x="96" y="462"/>
<use href="#g31" x="116" y="462"/>
<use href="#g34" x="126" y="462"/>
<use href="#g35" x="137" y="462"/>
<use href="#g2e" x="147" y="462"/>
<use href="#g30" x="157" y="462"/>
<use href="#g30" x="168" y="462"/>
<use href="#g30" x="178" y="462"/>
<use href="#g4d" x="199" y="462"/>
<use href="#g48" x="209" y="462"/>
<use href="#g7a" x="219" y="462"/>
<use href="#g53" x="477" y="462"/>
<use href="#g70" x="487" y="462"/>
<use href="#g61" x="498" y="462"/>
<use href="#g6e" x="508" y="462"/>
<use href="#g31" x="528" y="462"/>
<use href="#g2e" x="539" y="462"/>
<use href="#g30" x="549" y="462"/>
<use href="#g30" x="559" y="462"/>
<use href="#g30" x="570" y="462"/>
<use href="#g4d" x="590" y="462"/>
<use href="#g48" x="601" y="462"/>
<use href="#g7a" x="611" y="462"/>
<rect x="44" y="493" width="567" height="1"/>
<rect x="44" y="657" width="567" height="1"/>
<rect x="44" y="514" width="567" height="1"/>
<rect x="44" y="493" width="1" height="165"/>
<rect x="610" y="493" width="1" height="165"/>
<rect x="320" y="493" width="1" height="165"/>
<use href="#g31" x="46" y="498"/>
<use href="#g7c" x="56" y="498"/>
<use href="#g4d" x="66" y="498"/>
<use href="#g6b" x="77" y="498"/>
<use href="#g72" x="87" y="498"/>
<use href="#g5e" x="97" y="498"/>
<use href="#g28" x="107" y="498"/>
<use href="#g4d" x="118" y="498"/>
<use href="#g48" x="128" y="498"/>
<use href="#g7a" x="138" y="498"/>
<use href="#g29" x="149" y="498"/>
<use href="#g64" x="200" y="498"/>
<use href="#g42" x="210" y="498"/>
<use href="#g32" x="330" y="498"/>
<use href="#g3a" x="340" y="498"/>
<use href="#g4d" x="350" y="498"/>
<use href="#g6b" x="360" y="498"/>
<use href="#g72" x="371" y="498"/>
<use href="#g28" x="391" y="498"/>
<use href="#g4d" x="401" y="498"/>
<use href="#g48" x="412" y="498"/>
<use href="#g7a" x="422" y="498"/>
<use href="#g29" x="432" y="498"/>
<use href="#g64" x="483" y="498"/>
<use href="#g42" x="494" y="498"/>
<use href="#g31" x="46" y="517"/>
<use href="#g7c" x="56" y="517"/>
<use href="#g30" x="107" y="517"/>
<use href="#g2e" x="118" y="517"/>
<use href="#g30" x="128" y="517"/>
<use href="#g30" x="138" y="517"/>
<use href="#g30" x="200" y="517"/>
<use href="#g2e" x="210" y="517"/>
<use href="#g30" x="221" y="517"/>
<use href="#g30" x="231" y="517"/>
<use href="#g31" x="330" y="517"/>
<use href="#g3a" x="340" y="517"/>
<use href="#g31" x="371" y="517"/>
<use href="#g34" x="381" y="517"/>
<use href="#g34" x="391" y="517"/>
<use href="#g2e" x="401" y="517"/>
<use href="#g39" x="412" y="517"/>
<use href="#g39" x="422" y="517"/>
<use href="#g2d" x="473" y="517"/>
<use href="#g35" x="483" y="517"/>
<use href="#g2e" x="494" y="517"/>
<use href="#g31" x="504" y="517"/>
<use href="#g37" x="514" y="517"/>
<use href="#g32" x="45" y="535"/>
<use href="#g3e" x="56" y="535"/>
<use href="#g30" x="107" y="535"/>
<use href="#g2e" x="118" y="535"/>
<use href="#g35" x="128" y="535"/>
<use href="#g31" x="138" y="535"/>
<use href="#g2d" x="180" y="535"/>
<use href="#g32" x="190" y="535"/>
<use href="#g39" x="200" y="535"/>
<use href="#g2e" x="210" y="535"/>
<use href="#g31" x="221" y="535"/>
<use href="#g33" x="231" y="535"/>
<use href="#g32" x="330" y="535"/>
<use href="#g3e" x="340" y="535"/>
<use href="#g31" x="371" y="535"/>
<use href="#g34" x="381" y="535"/>
<use href="#g35" x="391" y="535"/>
<use href="#g2e" x="401" y="535"/>
<use href="#g35" x="412" y="535"/>
<use href="#g30" x="422" y="535"/>
<use href="#g30" x="483" y="535"/>
<use href="#g2e" x="494" y="535"/>
<use href="#g30" x="504" y="535"/>
<use href="#g30" x="514" y="535"/>
<use href="#g33" x="45" y="553"/>
<use href="#g7c" x="56" y="553"/>
<use href="#g30" x="107" y="553"/>
<use href="#g2e" x="118" y="553"/>
<use href="#g30" x="128" y="553"/>
<use href="#g30" x="138" y="553"/>
<use href="#g2d" x="190" y="553"/>
<use href="#g30" x="200" y="553"/>
<use href="#g2e" x="210" y="553"/>
<use href="#g30" x="221" y="553"/>
<use href="#g31" x="231" y="553"/>
<use href="#g33" x="330" y="553"/>
<use href="#g3a" x="340" y="553"/>
<use href="#g31" x="371" y="553"/>
<use href="#g34" x="381" y="553"/>
<use href="#g34" x="391" y="553"/>
<use href="#g2e" x="401" y="553"/>
<use href="#g39" x="412" y="553"/>
<use href="#g38" x="422" y="553"/>
<use href="#g2d" x="473" y="553"/>
<use href="#g34" x="483" y="553"/>
<use href="#g2e" x="494" y="553"/>
<use href="#g32" x="504" y="553"/>
<use href="#g39" x="514" y="553"/>
<use href="#g34" x="330" y="570"/>
<use href="#g3a" x="340" y="570"/>
<use href="#g31" x="371" y="570"/>
<use href="#g34" x="381" y="570"/>
<use href="#g35" x="391" y="570"/>
<use href="#g2e" x="401" y="570"/>
<use href="#g35" x="412" y="570"/>
<use href="#g30" x="422" y="570"/>
<use href="#g30" x="483" y="570"/>
<use href="#g2e" x="494" y="570"/>
<use href="#g30" x="504" y="570"/>
<use href="#g30" x="514" y="570"/>
<use href="#g35" x="45" y="588"/>
<use href="#g7c" x="56" y="588"/>
<use href="#g2d" x="97" y="588"/>
<use href="#g30" x="107" y="588"/>
<use href="#g2e" x="118" y="588"/>
<use href="#g30" x="128" y="588"/>
<use href="#g32" x="138" y="588"/>
<use href="#g2d" x="190" y="588"/>
<use href="#g33" x="200" y="588"/>
<use href="#g2e" x="210" y="588"/>
<use href="#g30" x="221" y="588"/>
<use href="#g34" x="231" y="588"/>
<use href="#g35" x="330" y="588"/>
<use href="#g3a" x="340" y="588"/>
<use href="#g31" x="371" y="588"/>
<use href="#g34" x="381" y="588"/>
<use href="#g34" x="391" y="588"/>
<use href="#g2e" x="401" y="588"/>
<use href="#g39" x="412" y="588"/>
<use href="#g37" x="422" y="588"/>
<use href="#g2d" x="473" y="588"/>
<use href="#g31" x="483" y="588"/>
<use href="#g2e" x="494" y="588"/>
<use href="#g38" x="504" y="588"/>
<use href="#g39" x="514" y="588"/>
<use href="#g36" x="45" y="606"/>
<use href="#g7c" x="56" y="606"/>
<use href="#g30" x="107" y="606"/>
<use href="#g2e" x="118" y="606"/>
<use href="#g30" x="128" y="606"/>
<use href="#g32" x="138" y="606"/>
<use href="#g2d" x="190" y="606"/>
<use href="#g33" x="200" y="606"/>
<use href="#g2e" x="210" y="606"/>
<use href="#g30" x="221" y="606"/>
<use href="#g37" x="231" y="606"/>
<use href="#g36" x="330" y="606"/>
<use href="#g3a" x="340" y="606"/>
<use href="#g31" x="371" y="606"/>
<use href="#g34" x="381" y="606"/>
<use href="#g35" x="391" y="606"/>
<use href="#g2e" x="401" y="606"/>
<use href="#g30" x="412" y="606"/>
<use href="#g31" x="422" y="606"/>
<use href="#g2d" x="473" y="606"/>
<use href="#g31" x="483" y="606"/>
<use href="#g2e" x="494" y="606"/>
<use href="#g39" x="504" y="606"/>
<use href="#g30" x="514" y="606"/>
</svg>
</body></html>
